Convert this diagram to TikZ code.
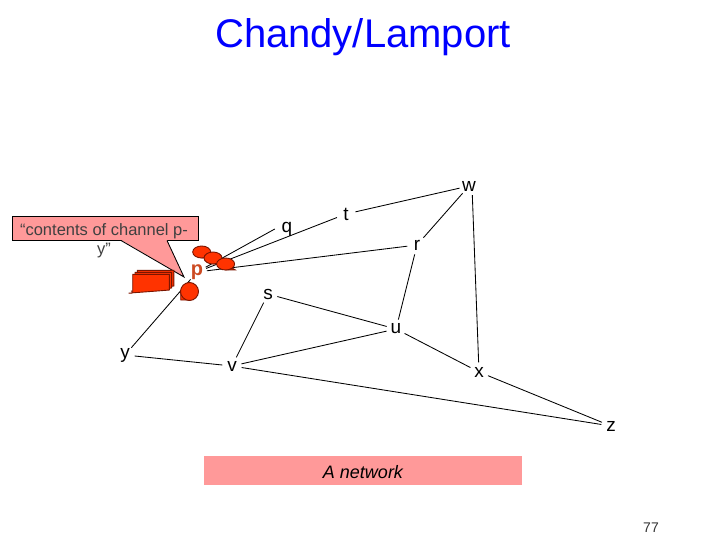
\documentclass[tikz,border=0pt]{standalone}
\usepackage{fontspec}
\setmainfont{Liberation Sans}
\usetikzlibrary{calc,shapes,positioning}
\definecolor{notepink}{HTML}{FF9999}
\definecolor{tokenred}{HTML}{FF3300}
\definecolor{tokenedge}{HTML}{7A1500}
\definecolor{procred}{HTML}{CC4A22}
\tikzset{proc/.style={
            circle,
            inner sep=0pt,
            minimum size=19pt,
            font=\fontsize{19}{19}\selectfont
        },
        link/.style={
            draw,
            line width=0.85pt
        },
        token/.style={
            draw=tokenedge,
            fill=tokenred,
            line width=0.9pt
        },
        msg/.style={
            token,
            ellipse,
            inner sep=0pt,
            minimum width=18pt,
            minimum height=12pt
        },
        note/.style={
            fill=notepink,
            inner sep=0pt
        }
    }

\begin{document}
\begin{tikzpicture}[x=1pt,y=-1pt]
        \useasboundingbox (0,0) rectangle (720,540);
        \node[font=\fontsize{40}{40}\selectfont,text=blue] at (363,37) (title) {Chandy/Lamport};

        \node[proc,text=procred,font=\fontsize{20}{20}\selectfont\bfseries] at (197,272) (p) {p};
        \node[proc,minimum size=24pt] at (287,229) (q) {q};
        \node[proc] at (346,214) (t) {t};
        \node[proc] at (469,186) (w) {w};
        \node[proc] at (417,245) (r) {r};
        \node[proc] at (268,294) (s) {s};
        \node[proc] at (396,329) (u) {u};
        \node[proc] at (125,355) (y) {y};
        \node[proc] at (232,366) (v) {v};
        \node[proc] at (479,372) (x) {x};
        \node[proc] at (611,426) (z) {z};

        \foreach \from/\to in {p/q.west,p/t,p/r,t/w,w/r,r/u,w.-70/x,s/u,s/v,u/v,u/x,v/z,x/z,y/v,y/p}
            \draw[link] (\from) -- (\to);

        \node[note,draw=black,line width=0.85pt,minimum width=186pt,minimum height=24pt] at (105,228.5) (callout) {};
        \coordinate (tip) at (184,277);
        \fill[notepink] (121,240) -- (tip) -- (167,240) -- cycle;
        \draw[link] (121,240.5) -- (tip) -- (167,240.5);
        \node[font=\fontsize{16.5}{16.5}\selectfont,text=black!75] at (104,231) (calloutone) {“contents of channel p-};
        \node[font=\fontsize{16.5}{16.5}\selectfont,text=black!75] at (104,251) (callouttwo) {y”};

        \foreach \i/\dx/\dy in {2/4.6/-4,1/2.3/-2,0/0/0}
            \draw[token] ($(132.7,274.3)+(\dx,\dy)$) -- ++(36.6,0) -- ++(0,15.7) .. controls ++(-10,1) and ++(-18,1) .. ++(-36.6,3) -- cycle;

        \foreach \i/\cx/\cy in {1/201.7/252,2/213/258,3/225.6/264} {
            \draw[token] (\cx,\cy) -- ++(9.5,5.8) -- ++(-9.5,0) -- cycle;
            \node[msg] at (\cx,\cy) (m\i) {};
        }
        \draw[token] (180.7,300) -- (180.7,292) -- (189.3,300) -- cycle;
        \node[msg,circle,minimum size=18pt] at (189.5,291.5) (blob) {};

        \node[note,minimum width=318pt,minimum height=29pt] at (363,470.5) (caption) {};
        \node[font=\fontsize{18}{18}\selectfont\itshape] at (363,472) (captiontext) {A network};
        \node[font=\fontsize{14}{14}\selectfont,text=black!80] at (651,528) (pageno) {77};
    \end{tikzpicture}
\end{document}
